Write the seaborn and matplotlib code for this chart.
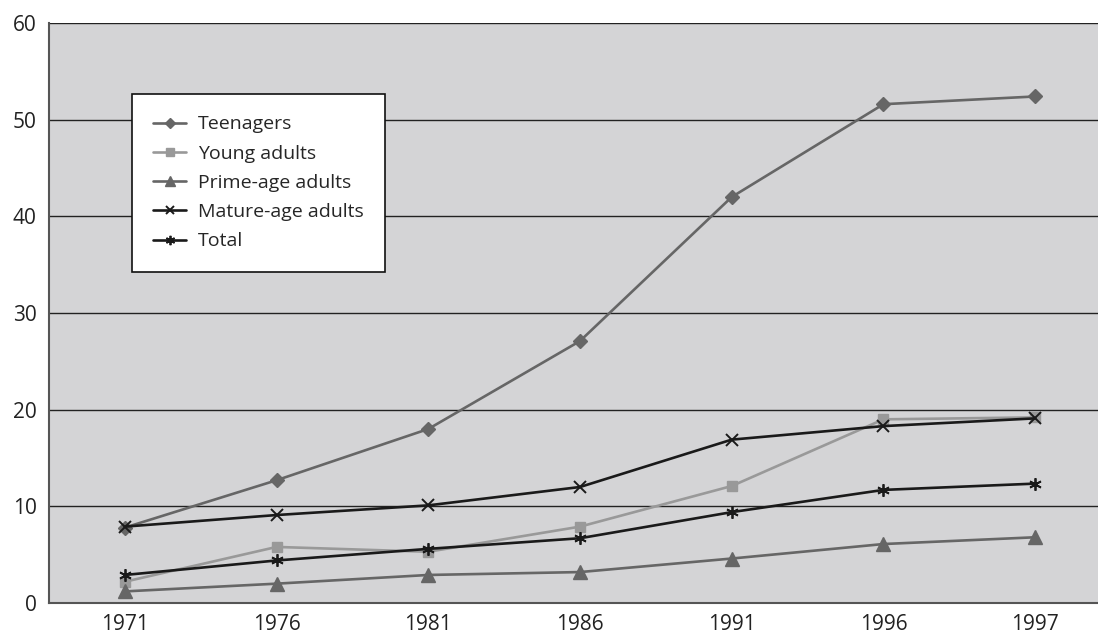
import pandas as pd
import matplotlib
matplotlib.use("Agg")
import matplotlib.pyplot as plt
import seaborn as sns
from matplotlib.ticker import FixedLocator

years = ["1971", "1976", "1981", "1986", "1991", "1996", "1997"]
teenagers = [7.8, 12.7, 18.0, 27.1, 42.0, 51.6, 52.4]
young_adults = [2.2, 5.8, 5.3, 7.9, 12.1, 19.0, 19.2]
prime_age = [1.2, 2.0, 2.9, 3.2, 4.6, 6.1, 6.8]
mature_age = [7.9, 9.1, 10.1, 12.0, 16.9, 18.3, 19.1]
total = [2.9, 4.4, 5.6, 6.7, 9.4, 11.7, 12.35]

series = [
    ("Teenagers", teenagers, "#666666", "D", 7, 1.0),
    ("Young adults", young_adults, "#999999", "s", 7, 1.0),
    ("Prime-age adults", prime_age, "#666666", "^", 10, 1.0),
    ("Mature-age adults", mature_age, "#1a1a1a", "x", 8, 1.4),
    ("Total", total, "#1a1a1a", (6, 2, 0), 9, 1.3),
]

sns.set_style("white")
plt.rcParams['font.family'] = ['Open Sans', 'DejaVu Sans']

fig = plt.figure(figsize=(10.98, 6.35), dpi=100)
ax = fig.add_axes([49 / 1098, 32 / 635, 1062 / 1098, 580 / 635])
ax.set_facecolor("#d4d4d6")

idx = list(range(len(years)))
for name, vals, col, mk, ms, mew in series:
    sns.lineplot(x=idx, y=vals, ax=ax, color=col, marker=mk, markersize=ms,
                 markeredgecolor=col, markerfacecolor=col, markeredgewidth=mew,
                 linewidth=1.9, label=name)

ax.set_xlim(-0.5, 6.5)
ax.set_ylim(0, 60)
ax.set_yticks(range(0, 61, 10))
ax.yaxis.grid(True, color="#222222", linewidth=1.0)
ax.set_axisbelow(True)

ax.xaxis.set_major_locator(FixedLocator([i - 0.5 for i in range(8)]))
ax.xaxis.set_major_formatter(plt.NullFormatter())
ax.set_xticks(idx, labels=years, minor=True)
ax.tick_params(axis="x", which="major", length=8, width=1.2, color="#444444")
ax.tick_params(axis="x", which="minor", length=0, labelsize=15, pad=8, labelcolor="#222222")
ax.tick_params(axis="y", length=6, width=1.2, color="#444444", labelsize=15,
               labelcolor="#222222", pad=3)

for s in ["top", "right"]:
    ax.spines[s].set_visible(False)
for s in ["left", "bottom"]:
    ax.spines[s].set_color("#555555")
    ax.spines[s].set_linewidth(1.5)

ax.set_xlabel("")
ax.set_ylabel("")

leg = ax.legend(loc="upper left", bbox_to_anchor=(132 / 1098, 1 - 94 / 635),
                bbox_transform=fig.transFigure, borderaxespad=0, frameon=True,
                fancybox=False, fontsize=14, handlelength=1.7, handletextpad=0.6,
                labelspacing=0.58, borderpad=1.1, edgecolor="#111111",
                framealpha=1, markerscale=0.75)
leg.get_frame().set_linewidth(1.2)
leg.get_frame().set_facecolor("white")

fig.savefig("out.png", dpi=100)
